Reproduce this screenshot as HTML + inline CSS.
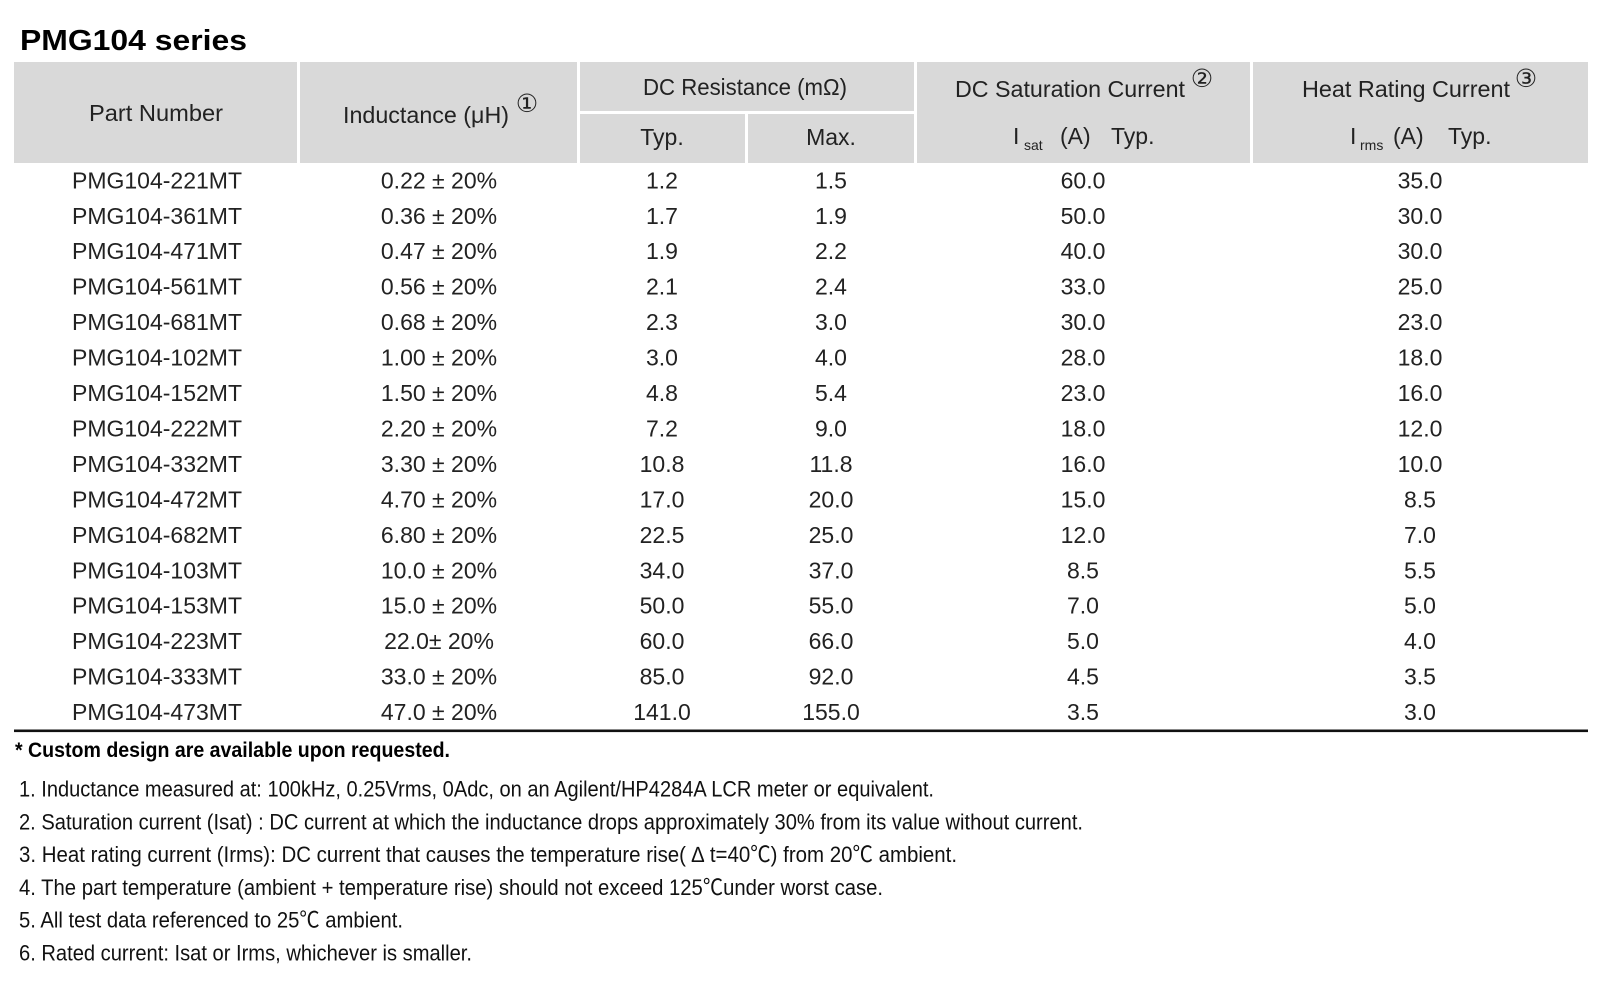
<!DOCTYPE html>
<html><head><meta charset="utf-8"><style>
html,body{margin:0;padding:0;background:#fff;}
svg{display:block;}
.t{font-family:"Liberation Sans","Noto Sans CJK SC",sans-serif;fill:#222;}
</style></head><body>
<svg width="1599" height="993" viewBox="0 0 1599 993" xmlns="http://www.w3.org/2000/svg">
<rect x="0" y="0" width="1599" height="993" fill="#fff"/>
<text class="t" x="20" y="50" font-size="29" font-weight="bold" fill="#000" style="fill:#000" textLength="227" lengthAdjust="spacingAndGlyphs">PMG104 series</text>

<!-- header band -->
<rect x="14" y="62" width="1574" height="101" fill="#d9d9d9"/>
<rect x="297" y="62" width="3" height="101" fill="#fff"/>
<rect x="577" y="62" width="3" height="101" fill="#fff"/>
<rect x="914" y="62" width="3" height="101" fill="#fff"/>
<rect x="1250" y="62" width="3" height="101" fill="#fff"/>
<rect x="578" y="111" width="337" height="3" fill="#fff"/>
<rect x="745" y="112" width="3" height="51" fill="#fff"/>

<g class="t" font-size="23">
<text x="156" y="121" text-anchor="middle" textLength="134" lengthAdjust="spacingAndGlyphs">Part Number</text>
<text x="426" y="123" text-anchor="middle" textLength="166" lengthAdjust="spacingAndGlyphs">Inductance (μH)</text>
<text x="745" y="95" text-anchor="middle" textLength="204" lengthAdjust="spacingAndGlyphs">DC Resistance (mΩ)</text>
<text x="662" y="145" text-anchor="middle">Typ.</text>
<text x="831" y="145" text-anchor="middle">Max.</text>
<text x="1070" y="97" text-anchor="middle" textLength="230" lengthAdjust="spacingAndGlyphs">DC Saturation Current</text>
<text x="1406" y="97" text-anchor="middle" textLength="208" lengthAdjust="spacingAndGlyphs">Heat Rating Current</text>
<text x="1013" y="144">I</text>
<text x="1024" y="150" font-size="14">sat</text>
<text x="1060" y="144">(A)</text>
<text x="1111" y="144">Typ.</text>
<text x="1350" y="144">I</text>
<text x="1360" y="150" font-size="14">rms</text>
<text x="1393" y="144">(A)</text>
<text x="1448" y="144">Typ.</text>
</g>
<g class="t" font-size="25" text-anchor="middle">
<text x="527" y="112" style="font-family:'DejaVu Sans','Noto Sans CJK SC',sans-serif">①</text>
<text x="1202" y="87" style="font-family:'DejaVu Sans','Noto Sans CJK SC',sans-serif">②</text>
<text x="1526" y="87" style="font-family:'DejaVu Sans','Noto Sans CJK SC',sans-serif">③</text>
</g>

<!-- data rows -->
<g class="t" font-size="23" text-anchor="middle">
<text x="157" y="188.3">PMG104-221MT</text><text x="439" y="188.3">0.22 ± 20%</text><text x="662" y="188.3">1.2</text><text x="831" y="188.3">1.5</text><text x="1083" y="188.3">60.0</text><text x="1420" y="188.3">35.0</text>
<text x="157" y="223.75">PMG104-361MT</text><text x="439" y="223.75">0.36 ± 20%</text><text x="662" y="223.75">1.7</text><text x="831" y="223.75">1.9</text><text x="1083" y="223.75">50.0</text><text x="1420" y="223.75">30.0</text>
<text x="157" y="259.2">PMG104-471MT</text><text x="439" y="259.2">0.47 ± 20%</text><text x="662" y="259.2">1.9</text><text x="831" y="259.2">2.2</text><text x="1083" y="259.2">40.0</text><text x="1420" y="259.2">30.0</text>
<text x="157" y="294.65">PMG104-561MT</text><text x="439" y="294.65">0.56 ± 20%</text><text x="662" y="294.65">2.1</text><text x="831" y="294.65">2.4</text><text x="1083" y="294.65">33.0</text><text x="1420" y="294.65">25.0</text>
<text x="157" y="330.1">PMG104-681MT</text><text x="439" y="330.1">0.68 ± 20%</text><text x="662" y="330.1">2.3</text><text x="831" y="330.1">3.0</text><text x="1083" y="330.1">30.0</text><text x="1420" y="330.1">23.0</text>
<text x="157" y="365.55">PMG104-102MT</text><text x="439" y="365.55">1.00 ± 20%</text><text x="662" y="365.55">3.0</text><text x="831" y="365.55">4.0</text><text x="1083" y="365.55">28.0</text><text x="1420" y="365.55">18.0</text>
<text x="157" y="401">PMG104-152MT</text><text x="439" y="401">1.50 ± 20%</text><text x="662" y="401">4.8</text><text x="831" y="401">5.4</text><text x="1083" y="401">23.0</text><text x="1420" y="401">16.0</text>
<text x="157" y="436.45">PMG104-222MT</text><text x="439" y="436.45">2.20 ± 20%</text><text x="662" y="436.45">7.2</text><text x="831" y="436.45">9.0</text><text x="1083" y="436.45">18.0</text><text x="1420" y="436.45">12.0</text>
<text x="157" y="471.9">PMG104-332MT</text><text x="439" y="471.9">3.30 ± 20%</text><text x="662" y="471.9">10.8</text><text x="831" y="471.9">11.8</text><text x="1083" y="471.9">16.0</text><text x="1420" y="471.9">10.0</text>
<text x="157" y="507.35">PMG104-472MT</text><text x="439" y="507.35">4.70 ± 20%</text><text x="662" y="507.35">17.0</text><text x="831" y="507.35">20.0</text><text x="1083" y="507.35">15.0</text><text x="1420" y="507.35">8.5</text>
<text x="157" y="542.8">PMG104-682MT</text><text x="439" y="542.8">6.80 ± 20%</text><text x="662" y="542.8">22.5</text><text x="831" y="542.8">25.0</text><text x="1083" y="542.8">12.0</text><text x="1420" y="542.8">7.0</text>
<text x="157" y="578.25">PMG104-103MT</text><text x="439" y="578.25">10.0 ± 20%</text><text x="662" y="578.25">34.0</text><text x="831" y="578.25">37.0</text><text x="1083" y="578.25">8.5</text><text x="1420" y="578.25">5.5</text>
<text x="157" y="613.7">PMG104-153MT</text><text x="439" y="613.7">15.0 ± 20%</text><text x="662" y="613.7">50.0</text><text x="831" y="613.7">55.0</text><text x="1083" y="613.7">7.0</text><text x="1420" y="613.7">5.0</text>
<text x="157" y="649.15">PMG104-223MT</text><text x="439" y="649.15">22.0± 20%</text><text x="662" y="649.15">60.0</text><text x="831" y="649.15">66.0</text><text x="1083" y="649.15">5.0</text><text x="1420" y="649.15">4.0</text>
<text x="157" y="684.6">PMG104-333MT</text><text x="439" y="684.6">33.0 ± 20%</text><text x="662" y="684.6">85.0</text><text x="831" y="684.6">92.0</text><text x="1083" y="684.6">4.5</text><text x="1420" y="684.6">3.5</text>
<text x="157" y="720">PMG104-473MT</text><text x="439" y="720">47.0 ± 20%</text><text x="662" y="720">141.0</text><text x="831" y="720">155.0</text><text x="1083" y="720">3.5</text><text x="1420" y="720">3.0</text>
</g>

<rect x="14" y="729.5" width="1574" height="2.6" fill="#111"/>

<text class="t" x="15" y="757" font-size="21" font-weight="bold" style="fill:#000" textLength="435" lengthAdjust="spacingAndGlyphs">* Custom design are available upon requested.</text>

<g class="t" font-size="22" style="fill:#111">
<text x="19" y="796.5" textLength="915" lengthAdjust="spacingAndGlyphs">1. Inductance measured at: 100kHz, 0.25Vrms, 0Adc, on an Agilent/HP4284A LCR meter or equivalent.</text>
<text x="19" y="829.3" textLength="1064" lengthAdjust="spacingAndGlyphs">2. Saturation current (Isat) : DC current at which the inductance drops approximately 30% from its value without current.</text>
<text x="19" y="862.1" textLength="938" lengthAdjust="spacingAndGlyphs">3. Heat rating current (Irms): DC current that causes the temperature rise( ∆ t=40℃) from 20℃ ambient.</text>
<text x="19" y="894.9" textLength="864" lengthAdjust="spacingAndGlyphs">4. The part temperature (ambient + temperature rise) should not exceed 125℃under worst case.</text>
<text x="19" y="927.7" textLength="384" lengthAdjust="spacingAndGlyphs">5. All test data referenced to 25℃ ambient.</text>
<text x="19" y="960.5" textLength="453" lengthAdjust="spacingAndGlyphs">6. Rated current: Isat or Irms, whichever is smaller.</text>
</g>
</svg>
</body></html>
